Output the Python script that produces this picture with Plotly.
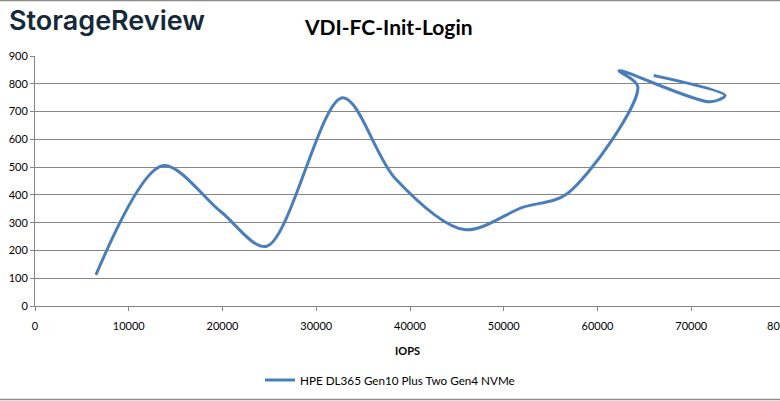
import plotly.graph_objects as go

# Data
iops = [6500, 13600, 19800, 24700, 32800, 38400, 45800, 52000, 56800, 64300, 62300, 72000, 73600, 66000]
latency = [112, 505, 340, 215, 750, 460, 275, 355, 405, 790, 847, 735, 758, 830]
series_name = "HPE DL365 Gen10 Plus Two Gen4 NVMe"
x_ticks = [0, 10000, 20000, 30000, 40000, 50000, 60000, 70000]
y_ticks = [0, 100, 200, 300, 400, 500, 600, 700, 800, 900]

W, H = 780, 401
L, R, T, B = 35, 0, 56, 95
plot_w = W - L - R
plot_h = H - T - B
x_max_visible = 80000 * plot_w / 750.0

grid = "#868686"
font_fam = "Lato, 'Open Sans', sans-serif"

fig = go.Figure()
fig.add_trace(go.Scatter(
    x=iops, y=latency, mode="lines", name=series_name,
    line=dict(color="#4A7EBB", width=3, shape="spline", smoothing=0.9),
))

def py(p):
    return (H - B - p) / plot_h

def px(p):
    return (p - L) / plot_w

fig.update_layout(
    width=W, height=H,
    margin=dict(l=L, r=R, t=T, b=B, autoexpand=False),
    paper_bgcolor="white", plot_bgcolor="white",
    font=dict(family=font_fam, size=11, color="#000000"),
    showlegend=True,
    legend=dict(orientation="h", x=px(390), xanchor="center", y=py(380), yanchor="middle",
                font=dict(size=11.7, color="#000000"), itemwidth=30, bgcolor="rgba(0,0,0,0)"),
    xaxis=dict(range=[0, x_max_visible], tickvals=x_ticks, ticktext=[str(v) for v in x_ticks],
               showgrid=False, zeroline=False, showline=True, linecolor=grid, linewidth=1,
               ticks="outside", ticklen=4, tickcolor=grid, automargin=False,
               ticklabelstandoff=6,
               title=dict(text="<b>IOPS</b>", font=dict(size=11), standoff=16)),
    yaxis=dict(range=[0, 900], tickvals=y_ticks, showgrid=True, gridcolor=grid, gridwidth=1,
               zeroline=False, showline=True, linecolor=grid, linewidth=1,
               ticks="outside", ticklen=4, tickcolor=grid, automargin=False),
)

# Partially visible "80" label at the right edge (the rest is cut off in the reference)
fig.add_annotation(x=px(765), y=py(325), xref="paper", yref="paper",
                   text="80", showarrow=False, xanchor="left", yanchor="middle",
                   font=dict(size=11, color="#000000"))

# Title
fig.add_annotation(x=px(388), y=py(27), xref="paper", yref="paper",
                   text="<b>VDI-FC-Init-Login</b>", showarrow=False,
                   xanchor="center", yanchor="middle",
                   font=dict(size=21, color="#000000", family=font_fam))

# Logo text
fig.add_annotation(x=px(7), y=py(20), xref="paper", yref="paper",
                   text="StorageReview", showarrow=False,
                   xanchor="left", yanchor="middle",
                   font=dict(size=27, color="#14293a", family="Inter, Lato, sans-serif", weight=600))

# Frame lines top and bottom
fig.add_shape(type="line", xref="paper", yref="paper", x0=px(0), x1=1.0,
              y0=py(0.5), y1=py(0.5), line=dict(color="#8c8c8c", width=1.5))
fig.add_shape(type="line", xref="paper", yref="paper", x0=px(0), x1=1.0,
              y0=py(399.5), y1=py(399.5), line=dict(color="#8c8c8c", width=1.5))

fig.write_html(
    "out.html",
    config={"displayModeBar": False},
    post_script="document.body.style.margin='0';document.body.style.padding='0';document.body.style.overflow='hidden';",
)
